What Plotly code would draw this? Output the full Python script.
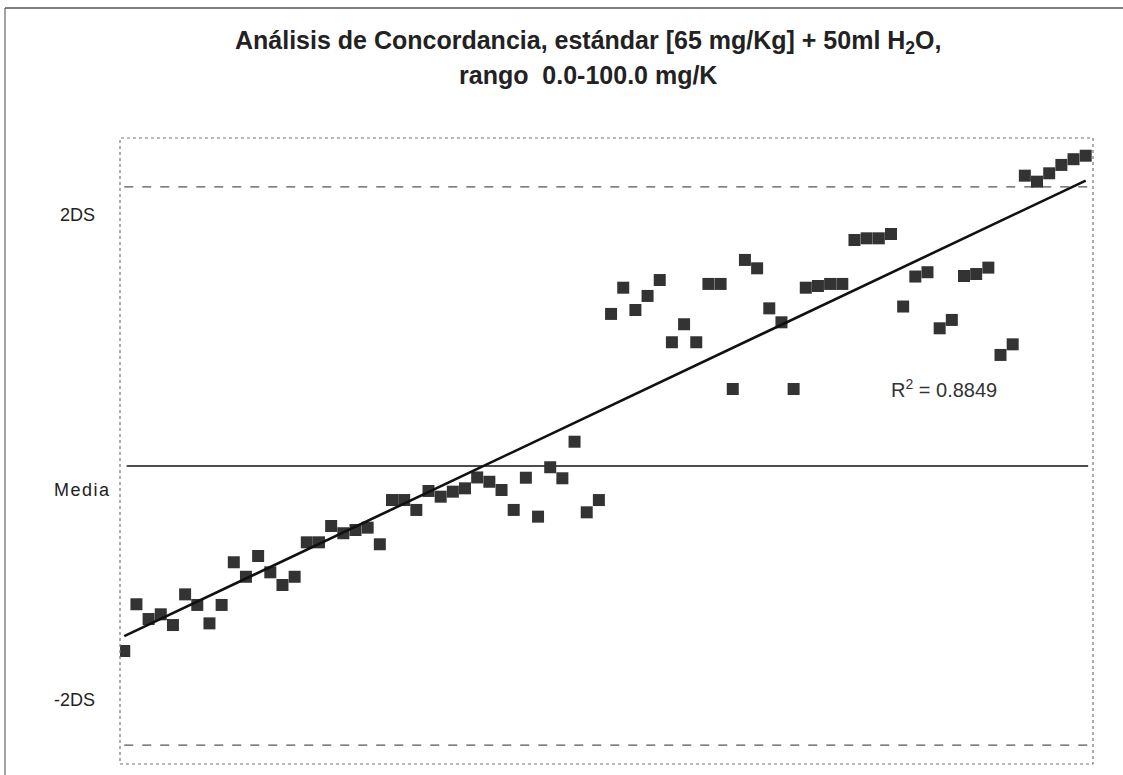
import numpy as np
import plotly.graph_objects as go

# Sample index (category positions)
muestra = list(range(1, 81))
# Values expressed in standard-deviation units relative to the mean (Media = 0)
valores = [
    -1.326, -0.991, -1.097, -1.063, -1.140, -0.920, -0.996, -1.128, -0.996, -0.690,
    -0.794, -0.645, -0.762, -0.853, -0.794, -0.547, -0.547, -0.430, -0.482, -0.459,
    -0.442, -0.561, -0.244, -0.244, -0.315, -0.179, -0.220, -0.184, -0.160, -0.082,
    -0.113, -0.172, -0.315, -0.084, -0.363, -0.009, -0.088, 0.174, -0.332, -0.244,
    1.090, 1.278, 1.118, 1.219, 1.333, 0.887, 1.016, 0.887, 1.305, 1.305,
    0.552, 1.477, 1.417, 1.130, 1.030, 0.552, 1.278, 1.290, 1.305, 1.305,
    1.620, 1.632, 1.632, 1.663, 1.143, 1.358, 1.389, 0.987, 1.047, 1.362,
    1.376, 1.422, 0.796, 0.872, 2.081, 2.038, 2.098, 2.158, 2.199, 2.224,
]
media = 0.0
ds = 1.0
limites_labels = ["2DS", "Media", "-2DS"]
r2_label = "R<sup>2</sup> = 0.8849"
titulo_l1 = "Análisis de Concordancia, estándar [65 mg/Kg] + 50ml H<sub>2</sub>O,"
titulo_l2 = "rango  0.0-100.0 mg/K"

x = np.array(muestra, dtype=float)
y = np.array(valores, dtype=float)
m, b = np.polyfit(x, y, 1)
xfit = np.array([x.min(), x.max()])
yfit = m * xfit + b

FONT = "Liberation Sans, Arial, sans-serif"
fig = go.Figure()

# +/- 2DS dashed limits
for lim in (media + 2 * ds, media - 2 * ds):
    fig.add_trace(go.Scatter(x=[x.min(), x.max() + 0.2], y=[lim, lim], mode="lines",
                             line=dict(color="#555555", width=1.2, dash="dash"),
                             showlegend=False, hoverinfo="skip"))
# Media line
fig.add_trace(go.Scatter(x=[x.min() + 0.2, x.max() + 0.2], y=[media, media], mode="lines",
                         line=dict(color="#111111", width=1.6),
                         showlegend=False, hoverinfo="skip"))
# Points
fig.add_trace(go.Scatter(x=x, y=y, mode="markers",
                         marker=dict(symbol="square", size=12, color="#333333",
                                     line=dict(width=0)),
                         showlegend=False))
# Linear trend
fig.add_trace(go.Scatter(x=xfit, y=yfit, mode="lines",
                         line=dict(color="#111111", width=2.6),
                         showlegend=False, hoverinfo="skip"))

W, H = 1123, 775
L, R, T, B = 120, 30, 138, 11
pw, ph = W - L - R, H - T - B

def px_x(px):
    return (px - L) / pw

def px_y(py):
    return (H - B - py) / ph

lab_font = dict(family=FONT, size=18, color="#222222")
annotations = [
    dict(x=px_x(97), y=px_y(215), xref="paper", yref="paper", text=limites_labels[0],
         showarrow=False, xanchor="right", yanchor="middle", font=lab_font),
    dict(x=px_x(112), y=px_y(490), xref="paper", yref="paper",
         text="\u200a".join(limites_labels[1]),
         showarrow=False, xanchor="right", yanchor="middle", font=lab_font),
    dict(x=px_x(97), y=px_y(700), xref="paper", yref="paper", text=limites_labels[2],
         showarrow=False, xanchor="right", yanchor="middle", font=lab_font),
    dict(x=px_x(889), y=px_y(388), xref="paper", yref="paper", text=r2_label,
         showarrow=False, xanchor="left", yanchor="middle",
         font=dict(family=FONT, size=20, color="#333333")),
    dict(x=px_x(588), y=px_y(42), xref="paper", yref="paper", text="<b>" + titulo_l1 + "</b>",
         showarrow=False, xanchor="center", yanchor="middle",
         font=dict(family=FONT, size=25, color="#222222")),
    dict(x=px_x(588), y=px_y(75), xref="paper", yref="paper", text="<b>" + titulo_l2 + "</b>",
         showarrow=False, xanchor="center", yanchor="middle",
         font=dict(family=FONT, size=25, color="#222222")),
]

shapes = [
    # plot area frame
    dict(type="rect", xref="paper", yref="paper", x0=0, y0=0, x1=1, y1=1,
         line=dict(color="#777777", width=1.2, dash="dot")),
    # outer chart frame (left and top)
    dict(type="line", xref="paper", yref="paper", x0=px_x(5), x1=px_x(5),
         y0=px_y(8), y1=px_y(775), line=dict(color="#666666", width=1.2)),
    dict(type="line", xref="paper", yref="paper", x0=px_x(5), x1=px_x(1123),
         y0=px_y(8), y1=px_y(8), line=dict(color="#555555", width=1.5)),
]

fig.update_layout(
    width=W, height=H,
    margin=dict(l=L, r=R, t=T, b=B),
    paper_bgcolor="white", plot_bgcolor="white",
    font=dict(family=FONT),
    xaxis=dict(range=[0.65, 80.6], showgrid=False, zeroline=False, showticklabels=False,
               ticks="", showline=False),
    yaxis=dict(range=[-2.136, 2.351], showgrid=False, zeroline=False, showticklabels=False,
               ticks="", showline=False),
    annotations=annotations,
    shapes=shapes,
    showlegend=False,
)

fig.write_html("out.html")
